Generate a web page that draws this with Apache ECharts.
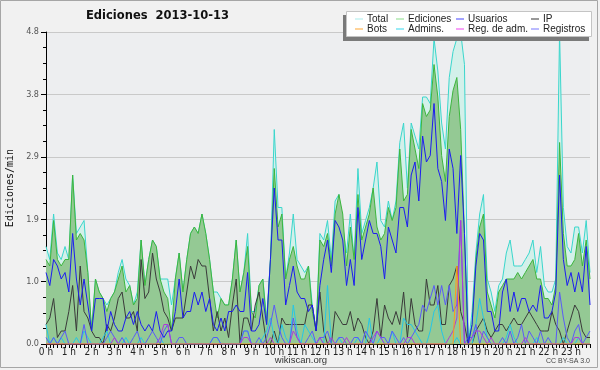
<!DOCTYPE html>
<html><head><meta charset="utf-8">
<script src="https://cdn.jsdelivr.net/npm/echarts@6/dist/echarts.min.js"></script>
<style>html,body{margin:0;padding:0;background:#f1f1f1}#c{width:600px;height:370px}</style>
</head><body><div id="c"></div>
<script>
// tick labels (one per hour), 6 samples per hour (every 10 minutes)
const hourLabels = ['0 h','1 h','2 h','3 h','4 h','5 h','6 h','7 h','8 h','9 h','10 h','11 h','12 h','13 h','14 h','15 h','16 h','17 h','18 h','19 h','20 h','21 h','22 h','23 h'];
const slotMinutes = ['00','10','20','30','40','50'];
const yTicks = [0, 0.96, 1.92, 2.88, 3.84, 4.8];

const total = [
 1.5,1.3,2.0,1.4,1.3,1.5,1.3,2.6,1.7,1.8,1.9,1.1, 0.2,1.0,0.8,0.7,0.6,0.7,0.8,1.1,1.3,1.0,0.9,0.6,
 0.8,1.6,0.9,1.3,1.6,1.5,1.0,1.0,1.0,0.6,1.0,1.4, 0.8,1.3,1.7,1.8,1.7,2.0,1.7,1.3,0.8,0.8,0.7,0.6,
 0.6,1.0,1.6,0.8,1.1,1.7,0.5,0.5,0.9,1.0,0.4,1.3, 3.3,2.1,2.1,1.0,1.4,2.0,1.3,1.2,1.1,1.2,0.6,0.2,
 1.7,1.6,1.9,1.3,2.2,2.3,1.8,1.4,2.0,1.3,2.7,1.7, 1.9,2.1,2.4,2.8,1.9,1.8,2.2,1.9,2.2,3.1,3.4,2.4,
 3.4,3.2,3.0,3.8,3.8,3.7,4.7,4.2,3.4,3.0,4.1,4.5, 4.7,4.8,4.3,0.0,0.5,1.4,2.0,2.3,1.0,0.8,0.5,0.9,
 1.0,1.4,1.6,1.2,1.2,1.2,1.3,1.4,1.6,1.1,1.5,0.9, 0.8,0.8,1.0,4.8,2.1,1.5,1.4,1.8,1.8,1.4,1.9,1.1
];
const ediciones = [
 1.3,1.2,1.9,1.3,1.2,1.3,1.3,2.6,1.6,1.7,1.6,1.1, 0.2,1.0,0.8,0.7,0.5,0.7,0.8,1.0,1.2,0.8,0.9,0.6,
 0.7,1.6,0.9,1.3,1.6,1.5,1.0,0.8,0.7,0.2,1.0,1.4, 0.8,1.3,1.7,1.8,1.7,2.0,1.7,1.3,0.8,0.4,0.7,0.6,
 0.6,1.0,1.6,0.8,1.1,1.5,0.5,0.4,0.9,1.0,0.3,1.3, 2.7,1.8,2.0,1.0,1.3,1.5,1.2,1.0,1.0,1.2,0.5,0.2,
 1.6,1.5,1.7,1.2,2.0,2.3,2.0,1.2,1.8,1.3,2.3,1.6, 1.8,2.0,2.4,1.8,1.6,1.7,2.1,1.9,2.1,3.0,2.2,2.3,
 3.3,3.0,2.7,3.7,3.5,3.6,4.3,3.8,2.9,2.5,3.5,3.9, 4.1,3.3,1.7,0.0,0.3,1.3,1.8,2.0,0.8,0.6,0.4,0.8,
 0.9,1.0,1.0,1.0,1.1,1.0,1.1,1.2,1.3,1.0,1.0,0.7, 0.7,0.6,0.9,3.1,1.7,1.2,1.2,1.3,1.7,1.2,1.6,1.0
];
const usuarios = [
 1.1,0.9,1.3,1.2,1.0,1.1,0.8,1.7,1.0,0.6,1.0,0.6, 0.2,0.7,0.7,0.7,0.2,0.5,0.3,0.2,0.2,0.4,0.5,0.3,
 0.5,0.3,0.2,0.3,0.2,0.5,0.2,0.1,0.2,0.2,0.5,1.0, 0.4,0.5,0.5,0.8,0.6,0.8,0.5,0.7,0.3,0.2,0.4,0.2,
 0.5,0.5,0.6,0.5,0.5,1.1,0.2,0.2,0.3,0.7,0.3,1.3, 2.4,1.6,1.6,0.6,0.9,1.2,0.8,0.7,0.7,0.5,0.6,0.2,
 0.9,1.3,1.6,1.1,1.9,1.8,1.6,0.9,1.3,0.9,2.1,1.3, 1.6,1.9,1.7,1.7,1.5,1.0,1.8,1.6,1.4,2.1,2.1,1.8,
 2.6,2.8,2.2,3.2,2.8,2.9,3.7,2.7,2.5,1.9,3.0,2.7, 1.7,2.9,1.7,0.0,0.3,1.2,1.7,1.6,0.5,0.5,0.2,0.2,
 0.8,1.0,0.5,0.8,0.5,0.7,0.7,0.5,0.6,0.5,0.9,0.4, 0.4,0.5,0.8,2.6,1.3,0.9,1.1,0.8,1.1,0.8,1.5,0.6
];
const ip = [
 0.3,0.4,0.7,0.1,0.2,0.2,0.5,0.9,0.2,1.2,0.5,0.4, 0.2,0.1,0.1,0.0,0.3,0.2,0.4,0.7,0.8,0.4,0.4,0.5,
 0.2,1.3,0.7,0.8,1.4,1.0,0.8,0.5,0.4,0.2,0.4,0.4, 0.4,0.8,1.2,1.0,1.3,1.2,1.2,0.7,0.2,0.5,0.2,0.4,
 0.1,0.6,1.0,0.0,0.4,0.4,0.2,0.6,0.8,0.4,0.0,0.0, 0.2,0.0,0.4,0.3,0.3,0.3,0.3,0.3,0.3,0.6,0.6,0.2,
 0.8,0.2,0.0,0.0,0.5,0.4,0.3,0.3,0.5,0.2,0.4,0.3, 0.1,0.0,0.2,0.7,0.1,0.6,0.4,0.3,0.5,0.3,0.8,0.1,
 0.7,0.3,0.2,0.2,1.0,0.6,0.6,0.9,0.3,0.3,0.9,1.0, 1.2,0.5,0.3,0.0,0.0,0.2,0.3,0.4,0.2,0.1,0.2,0.3,
 0.3,0.2,0.3,0.4,0.3,0.3,0.4,0.5,0.4,0.3,0.2,0.2, 0.2,0.5,0.3,0.2,0.0,0.2,0.4,0.6,0.5,0.2,0.1,0.1
];
const bots = [
 0,0,0,0,0,0,0,0,0,0,0,0, 0,0,0,0,0,0,0,0,0,0,0,0,
 0,0,0,0,0,0,0,0,0,0,0,0, 0,0,0,0,0,0,0,0,0,0,0,0,
 0,0,0,0,0,0,0,0,0,0,0,0, 0,0,0,0,0,0,0,0,0,0,0,0,
 0,0,0,0,0,0,0,0,0,0,0,0, 0,0,0,0,0,0,0,0,0,0,0,0,
 0,0,0,0,0,0,0,0,0,0,0,0, 1.2,0,0,0,0,0,0,0,0,0,0,0,
 0,0,0,0,0,0,0,0,0,0,0,0, 0,0,0,0,0,0,0,0,0,0,0,0
];
const admins = [
 0.3,0.0,0.1,0.0,0.1,0.0,0.0,0.0,0.1,0.0,0.2,0.1, 0.0,0.0,0.0,0.1,0.2,0.0,0.0,0.0,0.0,0.1,0.0,0.0,
 0.0,0.1,0.0,0.0,0.0,0.0,0.1,0.0,0.0,0.0,0.0,0.0, 0.0,0.0,0.0,0.0,0.0,0.0,0.0,0.0,0.1,0.1,0.0,0.0,
 0.0,0.0,0.0,0.0,0.2,0.2,0.0,0.0,0.0,0.1,0.2,0.4, 0.1,0.0,0.3,0.1,0.0,0.6,0.2,0.0,0.3,0.2,0.1,0.0,
 0.1,0.0,0.9,0.0,0.0,0.1,0.0,0.0,0.0,0.0,0.1,0.0, 0.0,0.4,0.0,0.0,0.1,0.0,0.0,0.2,0.0,0.0,0.4,0.3,
 0.3,0.2,0.1,0.0,0.0,0.2,0.5,0.6,0.2,0.0,0.0,0.0, 0.1,0.0,0.0,0.0,0.0,0.3,0.7,0.4,0.1,0.0,0.0,0.0,
 0.0,0.1,0.3,0.1,0.0,0.0,0.0,0.0,0.0,0.1,0.0,0.0, 0.0,0.0,0.0,0.0,0.1,0.0,0.0,0.0,0.1,0.0,0.0,0.0
];
const regAdm = [
 0,0,0,0,0,0,0,0,0,0,0,0, 0,0,0,0,0,0,0.1,0,0,0,0,0,
 0,0,0,0,0,0,0.1,0.3,0.3,0,0,0, 0,0,0,0,0,0,0,0,0,0,0,0,
 0,0,0,0,0.1,0.1,0,0,0,0,0,0.1, 0,0,0,0,0,0.2,0.1,0,0,0,0,0,
 0.1,0,0,0.1,0,0,0,0.1,0,0,0,0, 0,0,0.1,0.2,0.1,0,0,0,0,0,0,0.1,
 0.1,0,0,0,0,0,0,0,0,0,0.1,0.2, 0.4,1.9,0,0,0.1,0.2,0.2,0.1,0,0.1,0,0,
 0,0,0,0,0,0,0.1,0,0,0,0,0, 0,0,0,0,0,0,0,0.1,0.1,0,0,0
];
const registros = [
 0.1,0.0,0.1,0.0,0.1,0.2,0.0,0.0,0.0,0.0,0.3,0.0, 0.0,0.0,0.0,0.0,0.1,0.2,0.1,0.0,0.1,0.0,0.0,0.1,
 0.2,0.0,0.0,0.1,0.2,0.1,0.0,0.2,0.3,0.0,0.0,0.1, 0.1,0.0,0.0,0.0,0.0,0.0,0.0,0.0,0.1,0.1,0.0,0.0,
 0.0,0.0,0.0,0.0,0.2,0.2,0.0,0.0,0.1,0.0,0.1,0.3, 0.6,0.3,0.1,0.0,0.0,0.4,0.1,0.0,0.0,0.1,0.2,0.0,
 0.1,0.1,0.2,0.0,0.0,0.1,0.1,0.0,0.0,0.1,0.1,0.0, 0.2,0.1,0.0,0.2,0.1,0.1,0.0,0.2,0.1,0.0,0.1,0.0,
 0.1,0.2,0.3,0.6,0.5,0.7,0.9,0.6,0.9,0.6,0.9,0.5, 0.6,1.9,0.0,0.1,0.1,0.3,0.0,0.2,0.1,0.0,0.0,0.0,
 0.1,0.0,0.2,0.0,0.1,0.3,0.0,0.2,0.1,0.0,0.2,0.0, 0.1,0.0,0.0,0.8,0.4,0.1,0.0,0.2,0.3,0.0,0.1,0.2
];

const categories = [];
hourLabels.forEach(h => slotMinutes.forEach(m => categories.push(h + ':' + m)));

const LF = '"Liberation Sans Narrow","DejaVu Sans Condensed","Liberation Sans",sans-serif';

function lineSeries(name, data, color, extra) {
  return Object.assign({
    name, type: 'line', data, symbol: 'none', showSymbol: false,
    lineStyle: { color, width: 1 }, itemStyle: { color },
    emphasis: { disabled: true }, silent: true
  }, extra || {});
}

const chart = echarts.init(document.getElementById('c'), null, { renderer: 'canvas' });
function legendCol(left, names, colors) {
  return {
    orient: 'vertical', left, top: 14, padding: 0, itemGap: 0,
    itemWidth: 8, itemHeight: 1, icon: 'rect', selectedMode: false,
    textStyle: { fontSize: 10, lineHeight: 10, color: '#222', fontFamily: '"Liberation Sans",sans-serif', padding: [0,0,0,-1] },
    data: names.map((n, i) => ({ name: n, itemStyle: { color: colors[i] } })),
    z: 20
  };
}

chart.setOption({
  animation: false,
  backgroundColor: '#f1f1f1',
  grid: { left: 46, right: 10, top: 32, bottom: 26, show: true, backgroundColor: '#edeef0', borderWidth: 0,
          containLabel: false, outerBoundsMode: 'none' },
  legend: [
    legendCol(355, ['Total', 'Bots'], ['#a8ecec', '#ffa733']),
    legendCol(396, ['Ediciones', 'Admins.'], ['#88dd88', '#33d6ec']),
    legendCol(456, ['Usuarios', 'Reg. de adm.'], ['#4444ff', '#ee44ee']),
    legendCol(531, ['IP', 'Registros'], ['#333333', '#7777ff'])
  ],
  xAxis: {
    type: 'category', data: categories, boundaryGap: false,
    axisLine: { lineStyle: { color: '#000', width: 1 } },
    axisTick: { interval: 0, length: 4, lineStyle: { color: '#000' } },
    axisLabel: {
      interval: (i) => i % 6 === 0, margin: 3, fontSize: 10, color: '#222', fontFamily: LF,
      formatter: (v, i) => hourLabels[Math.floor(i / 6)]
    },
    splitLine: { show: false }
  },
  yAxis: {
    type: 'value', min: yTicks[0], max: yTicks[yTicks.length - 1], interval: yTicks[1],
    name: 'Ediciones/min', nameLocation: 'middle', nameGap: 31, nameRotate: 90,
    nameTextStyle: { fontFamily: '"DejaVu Sans Mono",monospace', fontSize: 10, color: '#111' },
    axisLine: { show: true, lineStyle: { color: '#000', width: 1 } },
    axisTick: { show: true, length: 5, lineStyle: { color: '#000' } },
    minorTick: { show: true, splitNumber: 4, length: 3, lineStyle: { color: '#000' } },
    axisLabel: { fontSize: 9, color: '#555', margin: 7, fontFamily: LF,
      formatter: v => v.toFixed(1) },
    splitLine: { show: true, lineStyle: { color: '#c9c9c9', width: 1 } }
  },
  series: [
    lineSeries('Total', total, '#3ad6cc', { areaStyle: { color: '#d3f0ea', opacity: 1 }, z: 1 }),
    lineSeries('Ediciones', ediciones, '#3db53d', { areaStyle: { color: '#94c994', opacity: 1 }, z: 2 }),
    lineSeries('IP', ip, '#3a3a3a', { z: 3 }),
    lineSeries('Admins.', admins, '#26c6e6', { z: 3 }),
    lineSeries('Registros', registros, '#5a5af8', { z: 3 }),
    lineSeries('Reg. de adm.', regAdm, '#b03ad8', { z: 3 }),
    lineSeries('Usuarios', usuarios, '#1c1cf0', { z: 4 }),
    lineSeries('Bots', bots, '#ff9a1a', { z: 4 })
  ],
  graphic: [
    { type: 'rect', shape: { x: 0.5, y: 0.5, width: 597, height: 367 }, style: { fill: 'none', stroke: '#a6a6a6', lineWidth: 1 }, z: 30, silent: true },
    { type: 'text', x: 86, y: 16, style: { text: 'Ediciones  2013-10-13', font: 'bold 11.5px "DejaVu Sans",sans-serif', fill: '#111', verticalAlign: 'middle' }, z: 30 },
    { type: 'rect', shape: { x: 343, y: 15, width: 246, height: 26 }, style: { fill: '#7a7a7a' }, z: 10 },
    { type: 'rect', shape: { x: 346.5, y: 11.5, width: 245, height: 25 }, style: { fill: '#ffffff', stroke: '#c4c4c4', lineWidth: 1 }, z: 11 },
    { type: 'text', x: 301, y: 360, style: { text: 'wikiscan.org', font: '9.5px "Liberation Sans",sans-serif', fill: '#333', align: 'center', verticalAlign: 'middle' }, z: 30 },
    { type: 'text', x: 590, y: 361, style: { text: 'CC BY-SA 3.0', font: '7px "Liberation Sans",sans-serif', fill: '#444', align: 'right', verticalAlign: 'middle' }, z: 30 }
  ]
});
</script></body></html>
